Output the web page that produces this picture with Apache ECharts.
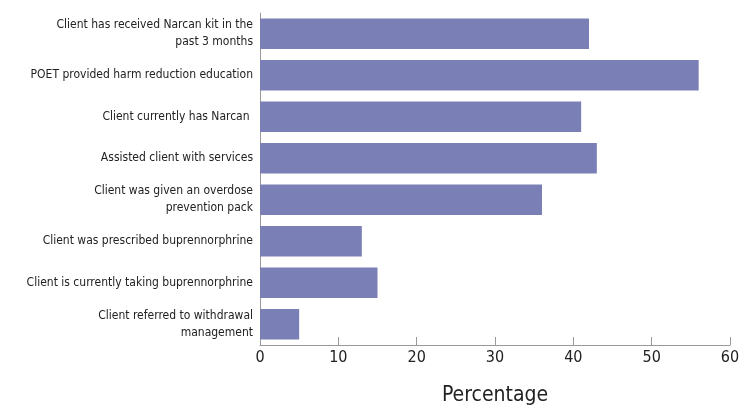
<!DOCTYPE html>
<html>
<head>
<meta charset="utf-8">
<script src="https://cdn.jsdelivr.net/npm/echarts@6/dist/echarts.min.js"></script>
<style>
html,body{margin:0;padding:0;background:#fff;}
#chart{width:747px;height:420px;}
</style>
</head>
<body>
<div id="chart"></div>
<script>
var categories = [
  'Client has received Narcan kit in the\npast 3 months',
  'POET provided harm reduction education',
  'Client currently has Narcan ',
  'Assisted client with services',
  'Client was given an overdose\nprevention pack',
  'Client was prescribed buprennorphrine',
  'Client is currently taking buprennorphrine',
  'Client referred to withdrawal\nmanagement'
];
var percentages = [42, 56, 41, 43, 36, 13, 15, 5];
var xTicks = [0, 10, 20, 30, 40, 50, 60];
var axisTitle = 'Percentage';

var FONT = '"DejaVu Sans Condensed", "Liberation Sans Narrow", sans-serif';
var chart = echarts.init(document.getElementById('chart'), null, {renderer: 'canvas'});
chart.setOption({
  animation: false,
  backgroundColor: '#ffffff',
  grid: {left: 260, right: 17, top: 13, bottom: 75, containLabel: false, outerBoundsMode: 'none'},
  xAxis: {
    type: 'value',
    min: xTicks[0],
    max: xTicks[xTicks.length - 1],
    interval: xTicks[1] - xTicks[0],
    name: axisTitle,
    nameLocation: 'middle',
    nameGap: 40,
    nameTextStyle: {fontFamily: FONT, fontSize: 21, color: '#222'},
    axisLine: {show: true, lineStyle: {color: '#999', width: 1}},
    axisTick: {show: true, inside: true, length: 8, lineStyle: {color: '#999'}},
    splitLine: {show: false},
    axisLabel: {fontFamily: FONT, fontSize: 16, color: '#222', margin: 5}
  },
  yAxis: {
    type: 'category',
    inverse: true,
    data: categories,
    axisLine: {show: true, lineStyle: {color: '#999', width: 1}},
    axisTick: {show: false},
    axisLabel: {fontFamily: FONT, fontSize: 12, color: '#222', margin: 7, lineHeight: 17, align: 'right'}
  },
  series: [{
    type: 'bar',
    data: percentages,
    barCategoryGap: '27%',
    itemStyle: {color: '#7a7fb5'}
  }]
});
</script>
</body>
</html>
